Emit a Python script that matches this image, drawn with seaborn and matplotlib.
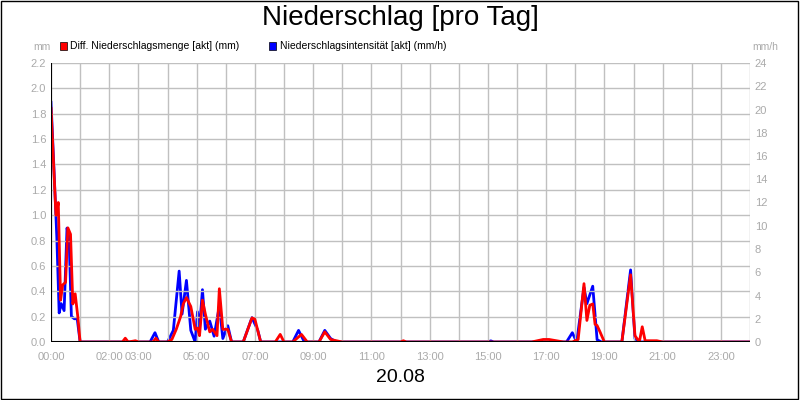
import matplotlib
matplotlib.use("Agg")
import matplotlib.pyplot as plt
import seaborn as sns
import pandas as pd
from matplotlib.patches import Rectangle

# Diff. Niederschlagsmenge [mm], hours of day
rain_hours = [0.0, 0.1, 0.17, 0.25, 0.33, 0.4, 0.5, 0.58, 0.67, 0.75, 0.83, 0.92, 1.0,
              2.45, 2.55, 2.65, 2.9, 3.0, 3.5, 3.6, 3.7, 4.0, 4.15, 4.3, 4.45, 4.54, 4.65,
              4.8, 4.95, 5.03, 5.1, 5.2, 5.3, 5.45, 5.55, 5.7, 5.78, 5.9, 6.07, 6.2, 6.6,
              6.9, 7.0, 7.2, 7.7, 7.87, 8.0, 8.3, 8.6, 8.8, 9.2, 9.4, 9.6, 10.0, 12.0, 12.1,
              12.2, 16.5, 16.9, 17.1, 17.6, 17.9, 18.1, 18.3, 18.4, 18.5, 18.6, 18.68,
              18.75, 18.85, 19.0, 19.6, 19.9, 20.05, 20.2, 20.3, 20.4, 20.6, 20.8, 21.0, 24.0]
rain_mm = [1.85, 1.35, 1.0, 1.1, 0.33, 0.45, 0.47, 0.9, 0.85, 0.3, 0.38, 0.2, 0.0,
           0.0, 0.03, 0.0, 0.01, 0.0, 0.0, 0.03, 0.0, 0.0, 0.02, 0.1, 0.2, 0.3, 0.35,
           0.28, 0.1, 0.11, 0.05, 0.33, 0.22, 0.08, 0.1, 0.05, 0.42, 0.1, 0.1, 0.0, 0.0,
           0.19, 0.18, 0.0, 0.0, 0.06, 0.0, 0.0, 0.06, 0.0, 0.0, 0.08, 0.02, 0.0, 0.0, 0.01,
           0.0, 0.0, 0.02, 0.02, 0.0, 0.0, 0.02, 0.46, 0.17, 0.29, 0.3, 0.14,
           0.13, 0.08, 0.0, 0.0, 0.53, 0.05, 0.0, 0.12, 0.01, 0.01, 0.01, 0.0, 0.0]

# Niederschlagsintensität [mm/h]
int_hours = [0.0, 0.1, 0.2, 0.28, 0.35, 0.45, 0.55, 0.62, 0.7, 0.8, 0.9, 1.0,
             3.4, 3.57, 3.7, 4.0, 4.2, 4.4, 4.5, 4.65, 4.8, 4.95, 5.03, 5.1, 5.2, 5.3,
             5.45, 5.6, 5.78, 5.9, 6.07, 6.2, 6.6, 6.9, 7.1, 7.2, 8.3, 8.5, 8.7, 9.2,
             9.4, 9.6, 9.8, 15.0, 15.1, 15.2, 17.7, 17.9, 18.05, 18.3, 18.4, 18.6,
             18.75, 18.9, 19.6, 19.9, 20.05, 20.2, 24.0]
int_mmh = [20.7, 15.0, 9.0, 2.5, 3.3, 2.7, 9.8, 9.0, 2.2, 2.0, 2.0, 0.0,
           0.0, 0.8, 0.0, 0.0, 1.0, 6.1, 2.4, 5.3, 1.0, 0.0, 2.6, 1.2, 4.5, 1.1,
           1.8, 0.5, 3.1, 0.3, 1.4, 0.0, 0.0, 2.1, 1.0, 0.0, 0.0, 1.0, 0.0, 0.0,
           1.0, 0.3, 0.0, 0.0, 0.1, 0.0, 0.0, 0.8, 0.0, 4.7, 3.3, 4.8,
           0.2, 0.0, 0.0, 6.2, 0.3, 0.0, 0.0]

tick_hours = [0, 2, 3, 5, 7, 9, 11, 13, 15, 17, 19, 21, 23]
tick_labels = ["00:00", "02:00", "03:00", "05:00", "07:00", "09:00", "11:00",
               "13:00", "15:00", "17:00", "19:00", "21:00", "23:00"]

sns.set_style("white")
plt.rcParams["font.family"] = ["Liberation Sans", "DejaVu Sans"]
plt.rcParams["text.color"] = "black"
grey = "#aaaaaa"

fig = plt.figure(figsize=(8, 4), dpi=100)
fig.patches.append(Rectangle((0.001, 0.002), 0.997, 0.996, transform=fig.transFigure,
                             fill=False, edgecolor="black", linewidth=1))
ax = fig.add_axes([51 / 800, 1 - 342 / 400, 699 / 800, 279 / 400])
ax2 = ax.twinx()

df_int = pd.DataFrame({"h": int_hours, "v": int_mmh})
df_rain = pd.DataFrame({"h": rain_hours, "v": rain_mm})
sns.lineplot(data=df_int, x="h", y="v", ax=ax2, color="#0000ff", linewidth=2)
sns.lineplot(data=df_rain, x="h", y="v", ax=ax, color="#ff0000", linewidth=2, zorder=5)
ax.set_zorder(ax2.get_zorder() + 1)
ax.patch.set_visible(False)

ax.set_xlim(0, 24)
ax.set_ylim(0, 2.2)
ax2.set_ylim(0, 24)
ax.set_yticks([i * 0.2 for i in range(12)])
ax2.set_yticks(range(0, 25, 2))
ax.set_xticks(range(0, 25))
ax.set_xticklabels([""] * 25)
for h, lab in zip(tick_hours, tick_labels):
    ax.text(h, -0.035, lab, ha="center", va="top", fontsize=8, color=grey,
            transform=ax.get_xaxis_transform())
ax.grid(True, color="#c0c0c0", linewidth=1)
ax.set_axisbelow(True)
ax2.grid(False)
for a in (ax, ax2):
    a.set_xlabel("")
    a.set_ylabel("")
    a.tick_params(length=0, labelsize=8, labelcolor=grey)
    for s in a.spines.values():
        s.set_visible(False)
ax.set_yticklabels([f"{i * 0.2:.1f}" for i in range(12)])
ax.axvline(0, color="black", linewidth=1.5, zorder=6)
ax.axhline(0, color="black", linewidth=1.5, zorder=6)

fig.text(0.5, 0.955, "Niederschlag [pro Tag]", ha="center", va="center", fontsize=20, color="black")
fig.text(0.5, 0.055, "20.08", ha="center", va="center", fontsize=14, color="black")
fig.text(33 / 800, 1 - 47 / 400, "mm", fontsize=7.5, color=grey, va="center")
fig.text(752 / 800, 1 - 47 / 400, "mm/h", fontsize=7.5, color=grey, va="center")
fig.patches.append(Rectangle((60 / 800, 1 - 50 / 400), 7 / 800, 8 / 400, transform=fig.transFigure,
                             facecolor="#ff0000", edgecolor="black", linewidth=0.5))
fig.text(70 / 800, 1 - 46 / 400, "Diff. Niederschlagsmenge [akt] (mm)", fontsize=7.5, va="center", color="black")
fig.patches.append(Rectangle((269 / 800, 1 - 50 / 400), 7 / 800, 8 / 400, transform=fig.transFigure,
                             facecolor="#0000ff", edgecolor="black", linewidth=0.5))
fig.text(280 / 800, 1 - 46 / 400, "Niederschlagsintensität [akt] (mm/h)", fontsize=7.5, va="center", color="black")

fig.savefig("out.png", dpi=100)
